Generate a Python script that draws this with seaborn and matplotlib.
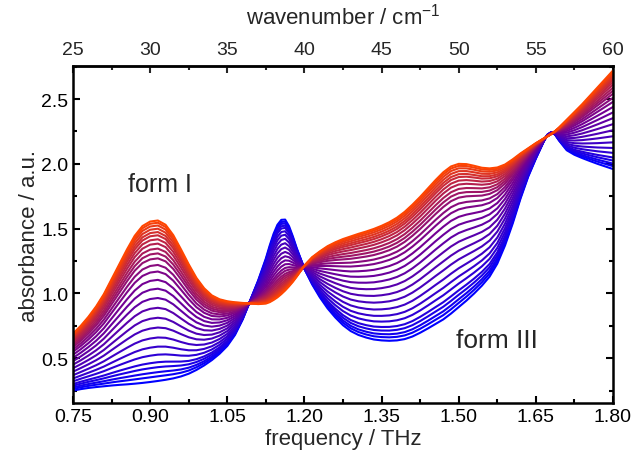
import numpy as np
import pandas as pd
import matplotlib
matplotlib.use("Agg")
import matplotlib.pyplot as plt
import seaborn as sns
from matplotlib.colors import LinearSegmentedColormap
from matplotlib.ticker import MultipleLocator, FixedLocator, FormatStrFormatter

# Frequency grid (THz)
freq_thz = [0.750, 0.765, 0.780, 0.795, 0.810, 0.825, 0.840, 0.855, 0.870, 0.885,
            0.900, 0.915, 0.930, 0.945, 0.960, 0.975, 0.990, 1.005, 1.020, 1.035,
            1.050, 1.065, 1.080, 1.095, 1.110, 1.125, 1.1325, 1.140, 1.1475, 1.155,
            1.1625, 1.170, 1.1775, 1.185, 1.200, 1.215, 1.230, 1.245, 1.260, 1.275,
            1.290, 1.305, 1.320, 1.335, 1.350, 1.365, 1.380, 1.395, 1.410, 1.425,
            1.440, 1.455, 1.470, 1.485, 1.500, 1.515, 1.530, 1.545, 1.560, 1.575,
            1.590, 1.605, 1.620, 1.635, 1.650, 1.665, 1.6725, 1.680, 1.6875, 1.695,
            1.710, 1.725, 1.740, 1.755, 1.770, 1.785, 1.800]

# Absorbance spectrum of pure form III
absorb_form3 = [0.250, 0.262, 0.271, 0.278, 0.284, 0.290, 0.295, 0.299, 0.304, 0.310,
                0.317, 0.325, 0.334, 0.345, 0.360, 0.381, 0.410, 0.445, 0.486, 0.535,
                0.595, 0.680, 0.800, 0.950, 1.100, 1.270, 1.370, 1.460, 1.530, 1.568,
                1.570, 1.520, 1.440, 1.350, 1.190, 1.070, 0.970, 0.885, 0.815, 0.755,
                0.710, 0.680, 0.660, 0.645, 0.638, 0.635, 0.638, 0.648, 0.668, 0.697,
                0.730, 0.765, 0.800, 0.845, 0.895, 0.945, 1.000, 1.060, 1.130, 1.230,
                1.370, 1.540, 1.730, 1.900, 2.040, 2.170, 2.225, 2.245, 2.225, 2.180,
                2.105, 2.070, 2.045, 2.022, 2.000, 1.980, 1.960]

# Absorbance spectrum of pure form I
absorb_form1 = [0.690, 0.750, 0.820, 0.900, 0.995, 1.110, 1.225, 1.340, 1.445, 1.520,
                1.555, 1.563, 1.530, 1.450, 1.340, 1.225, 1.120, 1.040, 0.985, 0.955,
                0.940, 0.932, 0.927, 0.923, 0.918, 0.922, 0.933, 0.950, 0.970, 0.995,
                1.023, 1.055, 1.090, 1.130, 1.215, 1.280, 1.325, 1.365, 1.395, 1.420,
                1.440, 1.460, 1.478, 1.498, 1.522, 1.550, 1.585, 1.630, 1.685, 1.745,
                1.810, 1.875, 1.935, 1.980, 2.000, 1.998, 1.985, 1.970, 1.965, 1.972,
                1.995, 2.035, 2.080, 2.120, 2.160, 2.195, 2.212, 2.230, 2.253, 2.280,
                2.340, 2.400, 2.460, 2.525, 2.590, 2.655, 2.720]

# Fraction converted to form I for each successive scan
fraction_form1 = [0.0, 0.029, 0.055, 0.086, 0.117, 0.164, 0.214, 0.271, 0.333,
                  0.394, 0.456, 0.517, 0.575, 0.630, 0.682, 0.723, 0.764, 0.795,
                  0.825, 0.856, 0.883, 0.908, 0.928, 0.949, 0.969, 0.986, 1.0]

# Top axis ticks (cm^-1), spanning the frequency range
wavenumber_ticks = [25, 30, 35, 40, 45, 50, 55, 60]
wavenumber_minor = [27.5, 32.5, 37.5, 42.5, 47.5, 52.5, 57.5]
CM_PER_THZ = 100.0 / 3.0

f3 = np.array(absorb_form3)
f1 = np.array(absorb_form1)
rows = []
for i, frac in enumerate(fraction_form1):
    spec = (1 - frac) * f3 + frac * f1
    for x, y in zip(freq_thz, spec):
        rows.append({"freq": x, "absorbance": y, "scan": f"scan {i:02d}"})
df = pd.DataFrame(rows)
scans = [f"scan {i:02d}" for i in range(len(fraction_form1))]

cmap = LinearSegmentedColormap.from_list(
    "b2r", [(0.0, 0.0, 1.0), (0.45, 0.0, 0.58), (1.0, 0.27, 0.0)])
colors = [cmap(i / (len(scans) - 1)) for i in range(len(scans))]

sns.set_style("ticks")
plt.rcParams['font.family'] = ['Liberation Sans', 'DejaVu Sans']
plt.rcParams['mathtext.fontset'] = 'custom'
plt.rcParams['mathtext.rm'] = 'Liberation Sans'
plt.rcParams['mathtext.it'] = 'Liberation Sans:italic'

fig = plt.figure(figsize=(6.36, 4.56), dpi=100)
ax = fig.add_axes([73 / 636, 1 - 404 / 456, 540 / 636, 337 / 456])

sns.lineplot(data=df, x="freq", y="absorbance", hue="scan", hue_order=scans,
             palette=colors, estimator=None, sort=False, legend=False,
             linewidth=1.5, ax=ax)

ax.set_xlim(0.75, 1.80)
ax.set_ylim(0.155, 2.755)
ax.xaxis.set_major_locator(MultipleLocator(0.15))
ax.xaxis.set_minor_locator(MultipleLocator(0.075))
ax.yaxis.set_major_locator(MultipleLocator(0.5))
ax.yaxis.set_minor_locator(MultipleLocator(0.25))
ax.xaxis.set_major_formatter(FormatStrFormatter('%.2f'))
ax.yaxis.set_major_formatter(FormatStrFormatter('%.1f'))
ax.tick_params(which='both', direction='in', top=False, right=True,
               width=1.5, labelsize=14, colors='black')
ax.tick_params(which='major', length=5)
ax.tick_params(which='minor', length=3)
for sp in ax.spines.values():
    sp.set_visible(True)
    sp.set_linewidth(1.8)
    sp.set_color('black')

ax.set_xlabel("frequency / THz", fontsize=16, labelpad=2)
ax.set_ylabel("absorbance / a.u.", fontsize=16, labelpad=1)

sec = ax.secondary_xaxis('top', functions=(lambda f: f * CM_PER_THZ,
                                           lambda k: k / CM_PER_THZ))
sec.xaxis.set_major_locator(FixedLocator(wavenumber_ticks))
sec.xaxis.set_minor_locator(FixedLocator(wavenumber_minor))
sec.xaxis.set_major_formatter(FormatStrFormatter('%d'))
sec.tick_params(which='both', direction='in', width=1.5, labelsize=14,
                pad=6)
sec.tick_params(which='major', length=5)
sec.tick_params(which='minor', length=3)
sec.spines['top'].set_linewidth(1.8)
sec.set_xlabel("wavenumber / cm$^{-1}$", fontsize=16, labelpad=12)

ax.text(0.919, 1.845, "form I", fontsize=18, ha='center', va='center')
ax.text(1.574, 0.643, "form III", fontsize=19, ha='center', va='center')

fig.savefig("out.png", dpi=100)
